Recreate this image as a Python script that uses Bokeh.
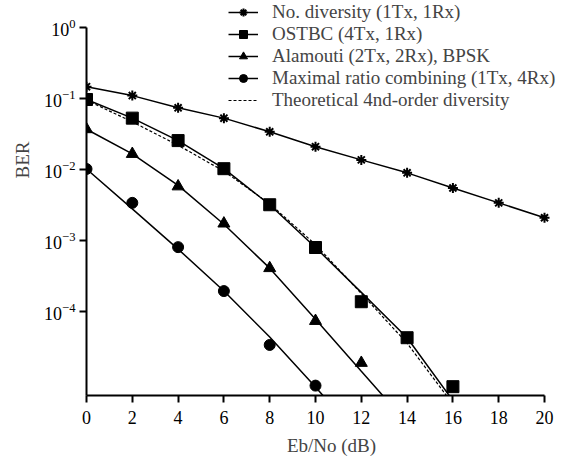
from bokeh.plotting import figure
from bokeh.models import Range1d, FixedTicker, Legend, LegendItem, Title
from bokeh.embed import file_html
from bokeh.resources import INLINE

# ---- data ----
snr_nodiv = [0, 2, 4, 6, 8, 10, 12, 14, 16, 18, 20]
ber_nodiv = [0.147, 0.110, 0.074, 0.053, 0.034, 0.021, 0.0137, 0.0090, 0.0055, 0.0034, 0.0021]

snr_ostbc = [0, 2, 4, 6, 8, 10, 12, 14, 16]
ber_ostbc_sim = [0.097, 0.053, 0.0256, 0.0103, 0.0032, 0.0008, 0.000138, 4.3e-5, 8.8e-6]
ber_ostbc_line = [0.097, 0.053, 0.0256, 0.0103, 0.0032, 0.0008, 0.000187, 4.3e-5, 5.6e-6]

snr_theory = [0, 2, 4, 6, 8, 10, 12, 14, 16]
ber_theory = [0.095, 0.047, 0.022, 0.0095, 0.0033, 0.00088, 0.00018, 3.6e-5, 5.0e-6]

snr_ala_sim = [0, 2, 4, 6, 8, 10, 12]
ber_ala_sim = [0.037, 0.0166, 0.0058, 0.00174, 0.00041, 7.4e-5, 1.9e-5]
snr_ala_line = [0, 2, 4, 6, 8, 10, 12, 14]
ber_ala_line = [0.037, 0.0166, 0.0060, 0.0017, 0.00041, 7.8e-5, 1.45e-5, 2.7e-6]

snr_mrc_sim = [0, 2, 4, 6, 8, 10]
ber_mrc_sim = [0.0102, 0.0034, 0.00081, 0.000195, 3.4e-5, 9.1e-6]
snr_mrc_line = [0, 2, 4, 6, 8, 10, 12]
ber_mrc_line = [0.0102, 0.0028, 0.00076, 0.000195, 4.4e-5, 8.7e-6, 1.6e-6]

x_ticks = [0, 2, 4, 6, 8, 10, 12, 14, 16, 18, 20]
y_ticks = [1, 0.1, 0.01, 0.001, 0.0001]

labels = ["No. diversity (1Tx, 1Rx)", "OSTBC (4Tx, 1Rx)", "Alamouti (2Tx, 2Rx), BPSK",
          "Maximal ratio combining (1Tx, 4Rx)", "Theoretical 4nd-order diversity"]

FONT = "Liberation Serif"
X_LOW, X_AXIS_END, X_HIGH = 0, 20, 21.397    # room right of the axis end for the legend
Y_LOW = 10 ** -5.18
Y_TOP_AXIS = 1.0
Y_HIGH = 10 ** 0.352   # room above the axis for the legend

p = figure(width=576, height=458, y_axis_type="log",
           x_range=Range1d(X_LOW, X_HIGH), y_range=Range1d(Y_LOW, Y_HIGH),
           output_backend="svg", toolbar_location=None,
           min_border_left=86, min_border_right=0, min_border_top=2, min_border_bottom=63)
p.outline_line_color = None
p.xgrid.visible = False
p.ygrid.visible = False
p.background_fill_color = "white"

lw = 1.5
r_nd_l = p.line(snr_nodiv, ber_nodiv, line_color="black", line_width=lw)
r_os_l = p.line(snr_ostbc, ber_ostbc_line, line_color="black", line_width=lw)
r_th_l = p.line(snr_theory, ber_theory, line_color="black", line_width=1.2, line_dash="3 2")
r_al_l = p.line(snr_ala_line, ber_ala_line, line_color="black", line_width=lw)
r_mr_l = p.line(snr_mrc_line, ber_mrc_line, line_color="black", line_width=lw)

r_nd_m = p.scatter(snr_nodiv, ber_nodiv, marker="asterisk", size=10, line_color="black", line_width=2)
r_os_m = p.scatter(snr_ostbc, ber_ostbc_sim, marker="square", size=12, color="black")
r_al_m = p.scatter(snr_ala_sim, ber_ala_sim, marker="triangle", size=12, color="black")
r_mr_m = p.scatter(snr_mrc_sim, ber_mrc_sim, marker="circle", size=11, color="black")

for ax in (p.xaxis[0], p.yaxis[0]):
    ax.axis_line_width = 2
    ax.major_tick_line_width = 2
    ax.major_tick_out = 7
    ax.major_tick_in = 0
    ax.minor_tick_out = 0
    ax.minor_tick_in = 0
    ax.major_label_text_font = FONT
    ax.major_label_text_font_size = "18px"
    ax.major_label_text_color = "black"
    ax.axis_label_text_font = FONT
    ax.axis_label_text_font_size = "19px"
    ax.axis_label_text_font_style = "normal"

p.xaxis.bounds = (X_LOW, X_AXIS_END)
p.yaxis.bounds = (Y_LOW, Y_TOP_AXIS)
p.xaxis.ticker = FixedTicker(ticks=x_ticks)
p.yaxis.ticker = FixedTicker(ticks=y_ticks, minor_ticks=[])
p.xaxis.axis_label = "Eb/No (dB)"
p.xaxis.axis_label_standoff = 8
p.xaxis.major_label_standoff = 8
p.yaxis.major_label_standoff = 4

p.add_layout(Title(text="BER", align="right", offset=139, text_font=FONT,
                   text_font_size="19px", text_font_style="normal", standoff=17), "left")

items = [
    LegendItem(label=labels[0], renderers=[r_nd_l, r_nd_m]),
    LegendItem(label=labels[1], renderers=[r_os_l, r_os_m]),
    LegendItem(label=labels[2], renderers=[r_al_l, r_al_m]),
    LegendItem(label=labels[3], renderers=[r_mr_l, r_mr_m]),
    LegendItem(label=labels[4], renderers=[r_th_l]),
]
legend = Legend(items=items, location=(142, 284), padding=0, margin=0, spacing=-4,
                glyph_width=30, glyph_height=20, label_height=20, label_standoff=14,
                label_text_font=FONT, label_text_font_size="19px",
                border_line_color=None, background_fill_alpha=0)
p.add_layout(legend)

open("out.html", "w").write(file_html(p, INLINE))
